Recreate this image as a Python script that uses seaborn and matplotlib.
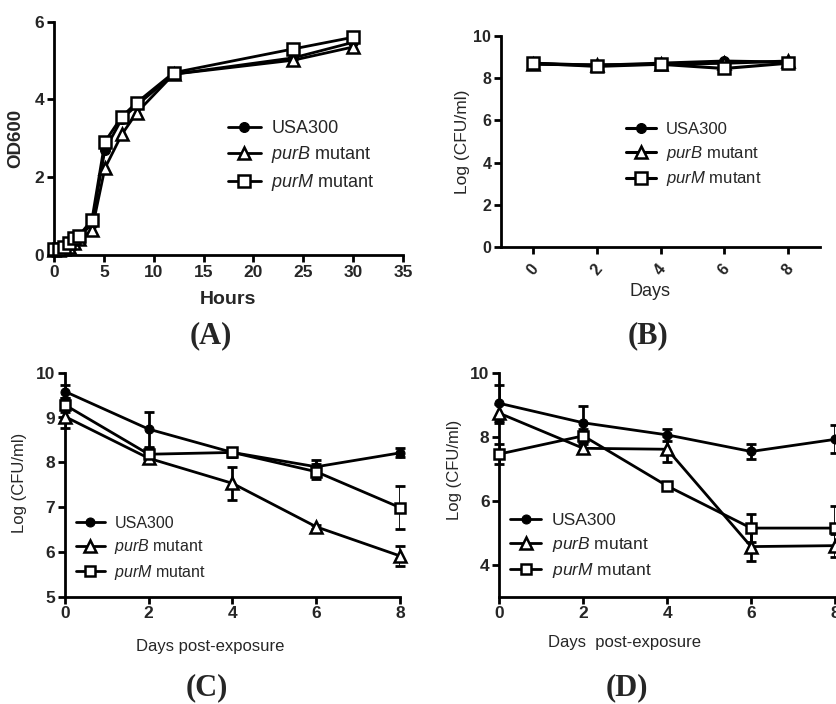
import numpy as np
import pandas as pd
import matplotlib
matplotlib.use("Agg")
import matplotlib.pyplot as plt
import seaborn as sns

sns.set_theme(style="ticks")
plt.rcParams['font.family'] = ['Liberation Sans', 'DejaVu Sans']
plt.rcParams['mathtext.fontset'] = 'custom'
plt.rcParams['mathtext.rm'] = 'Liberation Sans'
plt.rcParams['mathtext.it'] = 'Liberation Sans:italic'

# ---------- data ----------
series_names = ["USA300", r"$\mathit{purB}$ mutant", r"$\mathit{purM}$ mutant"]

# Panel A: growth curve
hours = [0, 0.5, 1, 1.5, 2, 2.5, 3.8, 5.1, 6.8, 8.3, 12, 24, 30]
a_usa300 = [0.15, 0.15, 0.18, 0.25, 0.35, 0.45, 0.80, 2.70, 3.50, 3.85, 4.65, 5.07, 5.47]
a_purB = [0.12, 0.13, 0.15, 0.20, 0.30, 0.40, 0.64, 2.23, 3.10, 3.66, 4.65, 5.01, 5.35]
a_purM = [0.15, 0.15, 0.20, 0.30, 0.45, 0.50, 0.90, 2.91, 3.56, 3.92, 4.69, 5.30, 5.60]

# Panel B: survival, days
days = [0, 2, 4, 6, 8]
b_usa300 = [8.70, 8.60, 8.70, 8.80, 8.75]
b_purB = [8.65, 8.62, 8.65, 8.70, 8.80]
b_purM = [8.70, 8.55, 8.65, 8.45, 8.70]

# Panel C: days post-exposure
c_usa300 = [9.58, 8.74, 8.22, 7.90, 8.21]
c_usa300_err = [0.15, 0.39, 0.10, 0.15, 0.10]
c_purB = [9.02, 8.09, 7.53, 6.56, 5.91]
c_purB_err = [0.25, 0.08, 0.37, 0.05, 0.23]
c_purM = [9.28, 8.18, 8.22, 7.79, 6.99]
c_purM_err = [0.15, 0.15, 0.10, 0.17, 0.47]

# Panel D: days post-exposure
d_usa300 = [9.06, 8.45, 8.07, 7.55, 7.93]
d_usa300_err = [0.57, 0.52, 0.20, 0.25, 0.44]
d_purB = [8.75, 7.65, 7.62, 4.57, 4.60]
d_purB_err = [0.30, 0.15, 0.40, 0.45, 0.35]
d_purM = [7.47, 8.04, 6.47, 5.15, 5.15]
d_purM_err = [0.30, 0.20, 0.10, 0.45, 0.70]

W, H = 837, 704
fig = plt.figure(figsize=(W / 100, H / 100), dpi=100)


def ax_px(left, right, top, bottom):
    return fig.add_axes([left / W, 1 - bottom / H, (right - left) / W, (bottom - top) / H])


def make_styles(scale):
    return [
        dict(marker="o", markersize=6.5 * scale, markerfacecolor="black", markeredgecolor="black"),
        dict(marker="^", markersize=8.0 * scale, markerfacecolor="white", markeredgecolor="black", markeredgewidth=1.8),
        dict(marker="s", markersize=7.5 * scale, markerfacecolor="white", markeredgecolor="black", markeredgewidth=1.8),
    ]


def draw(ax, x, ys, errs=None, lw=2.0, scale=1.0):
    styles = make_styles(scale)
    for i, (y, name) in enumerate(zip(ys, series_names)):
        df = pd.DataFrame({"x": x, "y": y})
        sns.lineplot(data=df, x="x", y="y", ax=ax, color="black", linewidth=lw,
                     label=name, errorbar=None, sort=False, zorder=3 + i, **styles[i])
        if errs is not None:
            ax.errorbar(x, y, yerr=errs[i], fmt="none", ecolor="black",
                        elinewidth=2, capsize=3.5, capthick=2, zorder=2)


def style_axes(ax, tick_size, lw=2):
    sns.despine(ax=ax)
    for s in ["left", "bottom"]:
        ax.spines[s].set_linewidth(lw)
        ax.spines[s].set_color("black")
    ax.tick_params(width=lw, length=5, color="black", labelsize=tick_size, pad=2)
    for t in ax.get_xticklabels() + ax.get_yticklabels():
        t.set_fontweight("bold")
    ax.set_xlabel("")
    ax.set_ylabel("")


def add_legend(ax, x, y, size):
    ax.legend(loc="upper left", bbox_to_anchor=(x / W, 1 - y / H), bbox_transform=fig.transFigure,
              frameon=False, fontsize=size, handlelength=1.8, handletextpad=0.6,
              labelspacing=0.4, borderaxespad=0, borderpad=0)


label_kw = dict(family="Liberation Serif", fontweight="bold", fontsize=22, ha="center", va="center")

# ---------- Panel A ----------
axA = ax_px(54, 403, 21.7, 255)
draw(axA, hours, [a_usa300, a_purB, a_purM], lw=2.0, scale=1.1)
axA.set_xlim(0, 35)
axA.set_ylim(0, 6)
axA.set_xticks(range(0, 36, 5))
axA.set_yticks([0, 2, 4, 6])
style_axes(axA, 12.5)
add_legend(axA, 228, 120, 13)
fig.text(228 / W, 1 - 299 / H, "Hours", ha="center", va="center", fontsize=14, fontweight="bold")
fig.text(16 / W, 1 - 138 / H, "OD600", ha="center", va="center", rotation=90, fontsize=13.5,
         fontweight="bold")
fig.text(211 / W, 1 - 336 / H, "(A)", **label_kw)

# ---------- Panel B ----------
axB = ax_px(501, 820, 35.7, 247.3)
draw(axB, days, [b_usa300, b_purB, b_purM], lw=2.2, scale=1.1)
axB.set_xlim(-1, 9)
axB.set_ylim(0, 10)
axB.set_xticks(days)
axB.set_yticks([0, 2, 4, 6, 8, 10])
style_axes(axB, 11.5)
axB.tick_params(axis="x", pad=5)
for t in axB.get_xticklabels():
    t.set_rotation(50)
    t.set_ha("center")
add_legend(axB, 626, 122, 12)
fig.text(650 / W, 1 - 292 / H, "Days", ha="center", va="center", fontsize=13)
fig.text(463 / W, 1 - 142 / H, "Log (CFU/ml)", ha="center", va="center", rotation=90, fontsize=12.5)
fig.text(648 / W, 1 - 336 / H, "(B)", **label_kw)

# ---------- Panel C ----------
axC = ax_px(65, 400, 372.7, 596.7)
draw(axC, days, [c_usa300, c_purB, c_purM], errs=[c_usa300_err, c_purB_err, c_purM_err], lw=2.0)
axC.set_xlim(0, 8)
axC.set_ylim(5, 10)
axC.set_xticks(days)
axC.set_yticks([5, 6, 7, 8, 9, 10])
style_axes(axC, 12.5)
add_legend(axC, 76, 516, 11.5)
fig.text(210 / W, 1 - 646 / H, "Days post-exposure", ha="center", va="center", fontsize=12)
fig.text(20 / W, 1 - 483 / H, "Log (CFU/ml)", ha="center", va="center", rotation=90, fontsize=12)
fig.text(207 / W, 1 - 688 / H, "(C)", **label_kw)

# ---------- Panel D ----------
axD = ax_px(499.3, 835, 373.3, 596.7)
draw(axD, days, [d_usa300, d_purB, d_purM], errs=[d_usa300_err, d_purB_err, d_purM_err], lw=2.0)
axD.set_xlim(0, 8)
axD.set_ylim(3, 10)
axD.set_xticks(days)
axD.set_yticks([4, 6, 8, 10])
style_axes(axD, 12.5)
add_legend(axD, 510, 513, 12.5)
fig.text(625 / W, 1 - 643 / H, "Days  post-exposure", ha="center", va="center", fontsize=12)
fig.text(455 / W, 1 - 470 / H, "Log (CFU/ml)", ha="center", va="center", rotation=90, fontsize=12)
fig.text(627 / W, 1 - 688 / H, "(D)", **label_kw)

for ax in [axA, axB, axC, axD]:
    for line in ax.lines:
        line.set_clip_on(False)

fig.savefig("out.png", dpi=100)
